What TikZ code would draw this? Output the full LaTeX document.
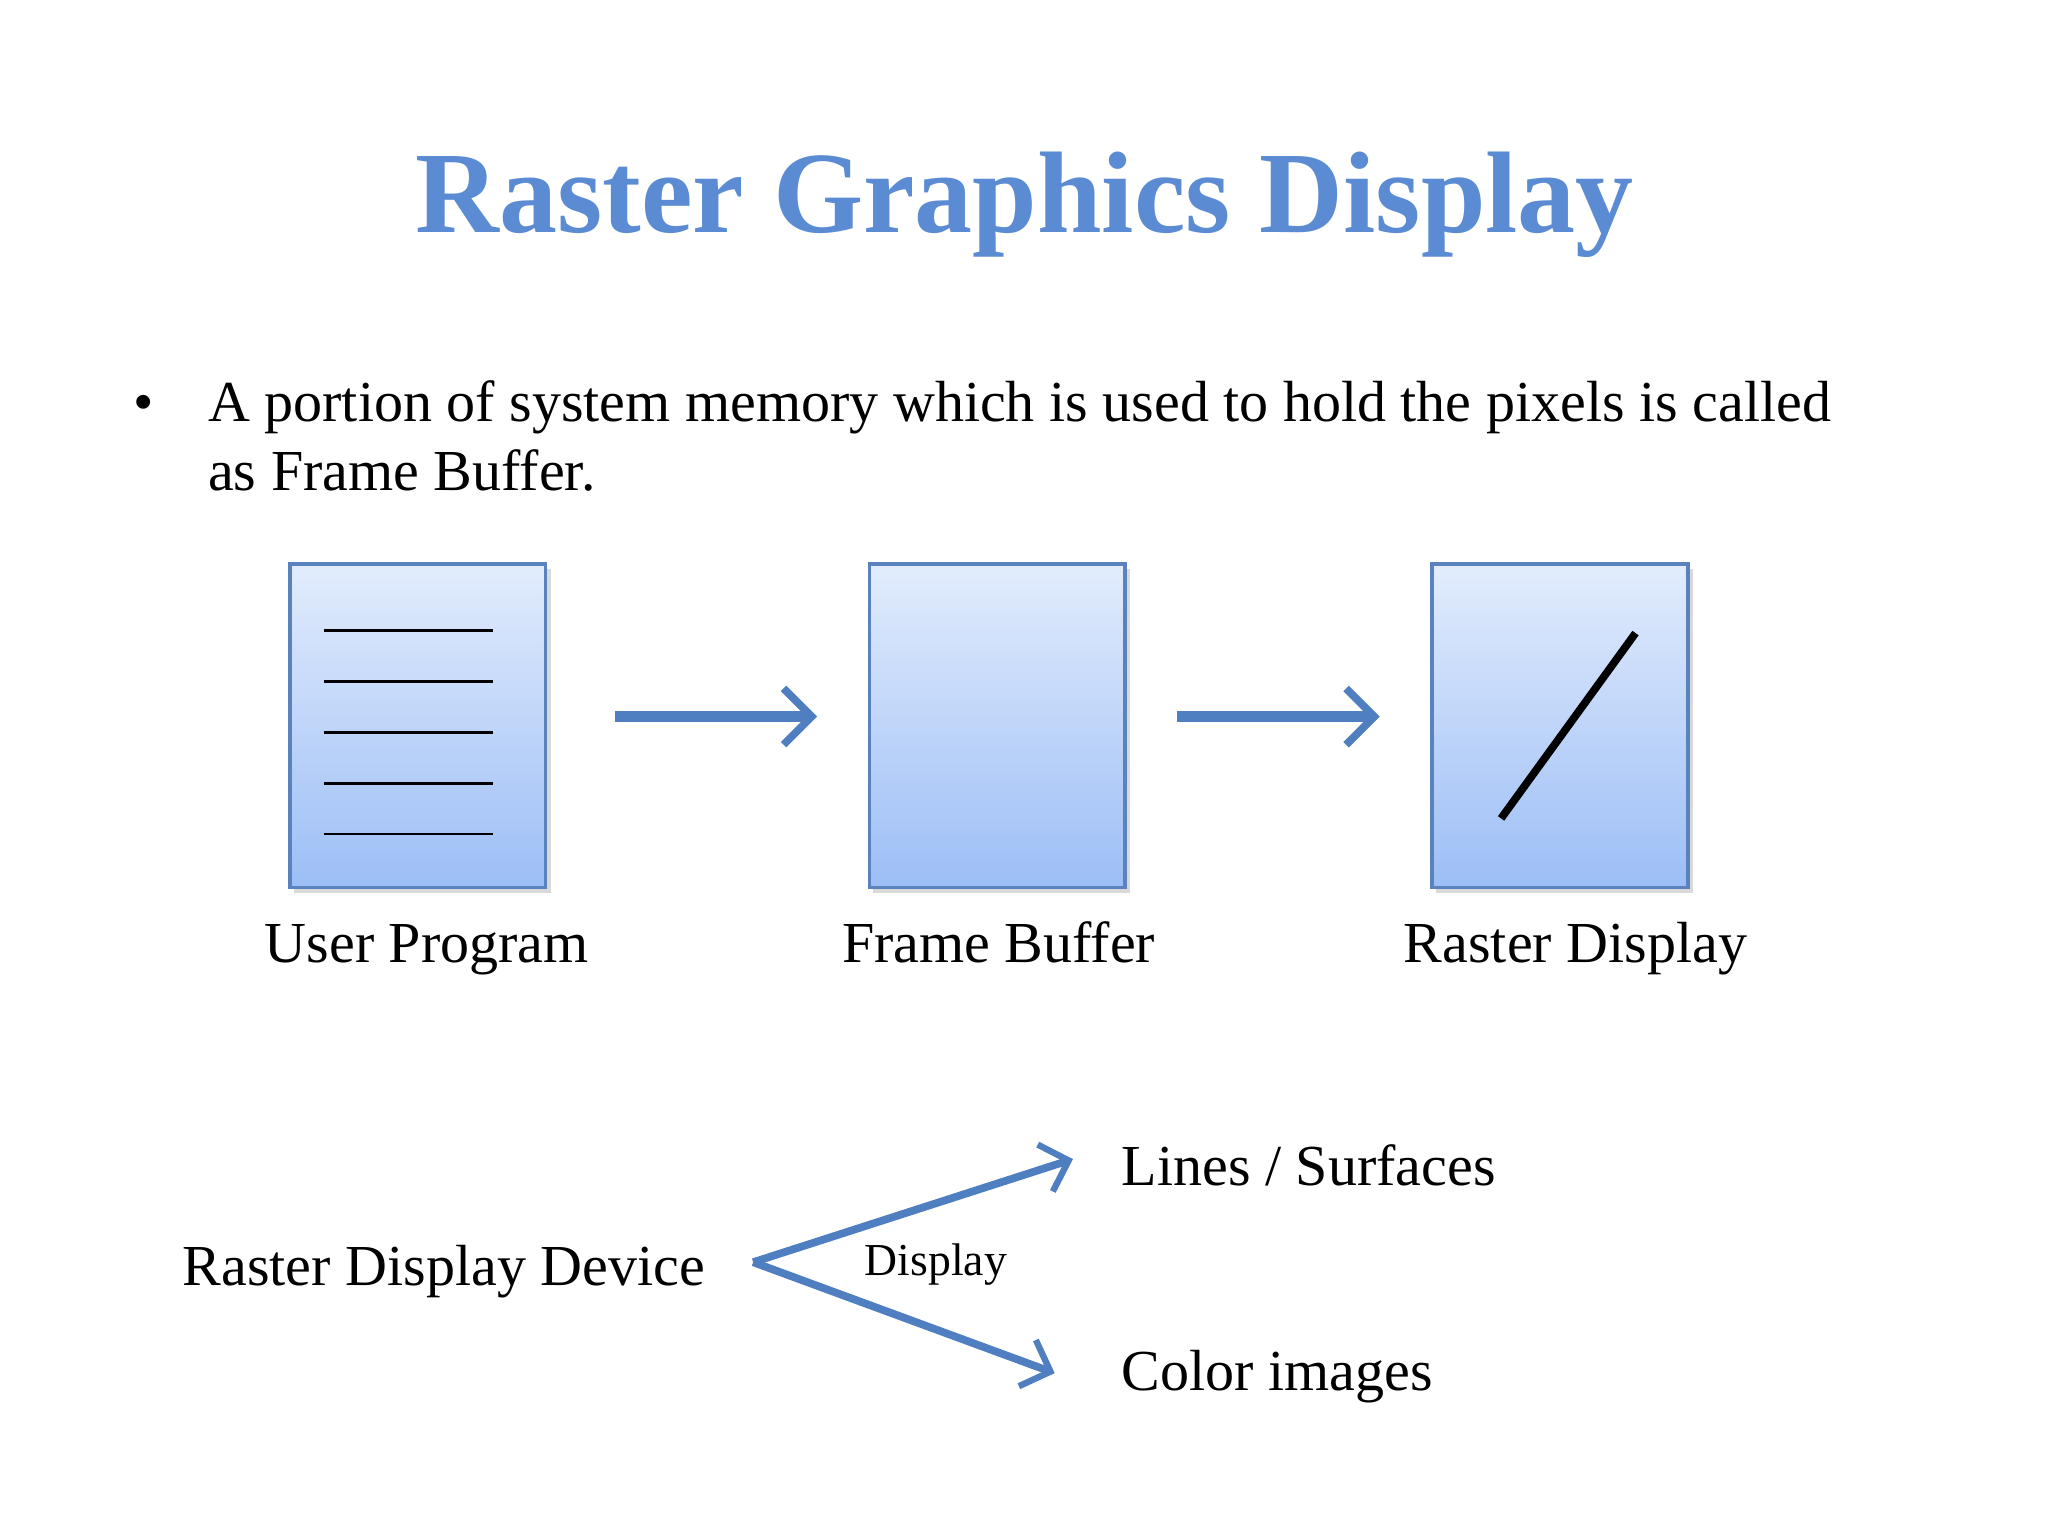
\documentclass[tikz,border=0pt]{standalone}
\usepackage{fontspec}
\setmainfont{Liberation Serif}
\usetikzlibrary{arrows.meta}
\definecolor{ttl}{HTML}{5B8CD3}
\definecolor{boxtop}{HTML}{E2ECFC}
\definecolor{boxbot}{HTML}{9CBEF6}
\definecolor{boxdraw}{HTML}{5A82BC}
\definecolor{arr}{HTML}{4F7FC0}
\begin{document}
\begin{tikzpicture}[x=0.01305cm,y=-0.01305cm,
  box/.style={draw=boxdraw,line width=1pt,top color=boxtop,bottom color=boxbot},
  flow/.style={draw=arr,line width=3.2pt,-{Straight Barb[length=8pt,width=16pt,line width=2.2pt]}},
  small/.style={draw=arr,line width=2.2pt,-{Straight Barb[length=7pt,width=14pt,line width=1.8pt]}},
  lbl/.style={font=\fontsize{16.5}{21}\selectfont}]
\useasboundingbox (0,0) rectangle (1569,1177);
\node[font=\fontsize{33}{38}\selectfont\bfseries,text=ttl] (title) at (785,157) {Raster Graphics Display};
\node[lbl,anchor=base west] (bul) at (93,323) {\textbullet};
\node[lbl,anchor=base west,align=left] (txt) at (150,323) {A portion of system memory which is used to hold the pixels is called};
\node[lbl,anchor=base west,align=left] (txt2) at (150,376) {as Frame Buffer.};
\fill[black!15] (225,436) rectangle (422,684);
\fill[black!15] (669,436) rectangle (866,684);
\fill[black!15] (1100,436) rectangle (1297,684);
\path[box] (222,432) rectangle (418,680) node[pos=.5] (b1) {};
\path[box] (666,432) rectangle (862,680) node[pos=.5] (b2) {};
\path[box] (1097,432) rectangle (1293,680) node[pos=.5] (b3) {};
\foreach \y in {483,522,561,600,639} \draw[line width=0.8pt] (248,\y) -- (378,\y);
\draw[line width=2.2pt] (1253,485) -- (1150,627);
\coordinate (a1s) at (471,549); \coordinate (a1e) at (626,549);
\coordinate (a2s) at (902,549); \coordinate (a2e) at (1057,549);
\draw[flow] (a1s) -- (a1e);
\draw[flow] (a2s) -- (a2e);
\node[lbl,anchor=base] (l1) at (327,737) {User Program};
\node[lbl,anchor=base] (l2) at (765,737) {Frame Buffer};
\node[lbl,anchor=base] (l3) at (1207,737) {Raster Display};
\node[lbl,anchor=base] (dev) at (340,985) {Raster Display Device};
\coordinate (fork) at (577,967);
\coordinate (e1) at (822,888);
\coordinate (e2) at (808,1052);
\draw[small] (fork) -- (e1);
\draw[small] (fork) -- (e2);
\node[font=\fontsize{13}{16}\selectfont,anchor=base] (disp) at (717,977) {Display};
\node[lbl,anchor=base west] (ls) at (850,908) {Lines / Surfaces};
\node[lbl,anchor=base west] (ci) at (850,1065) {Color images};
\end{tikzpicture}
\end{document}
